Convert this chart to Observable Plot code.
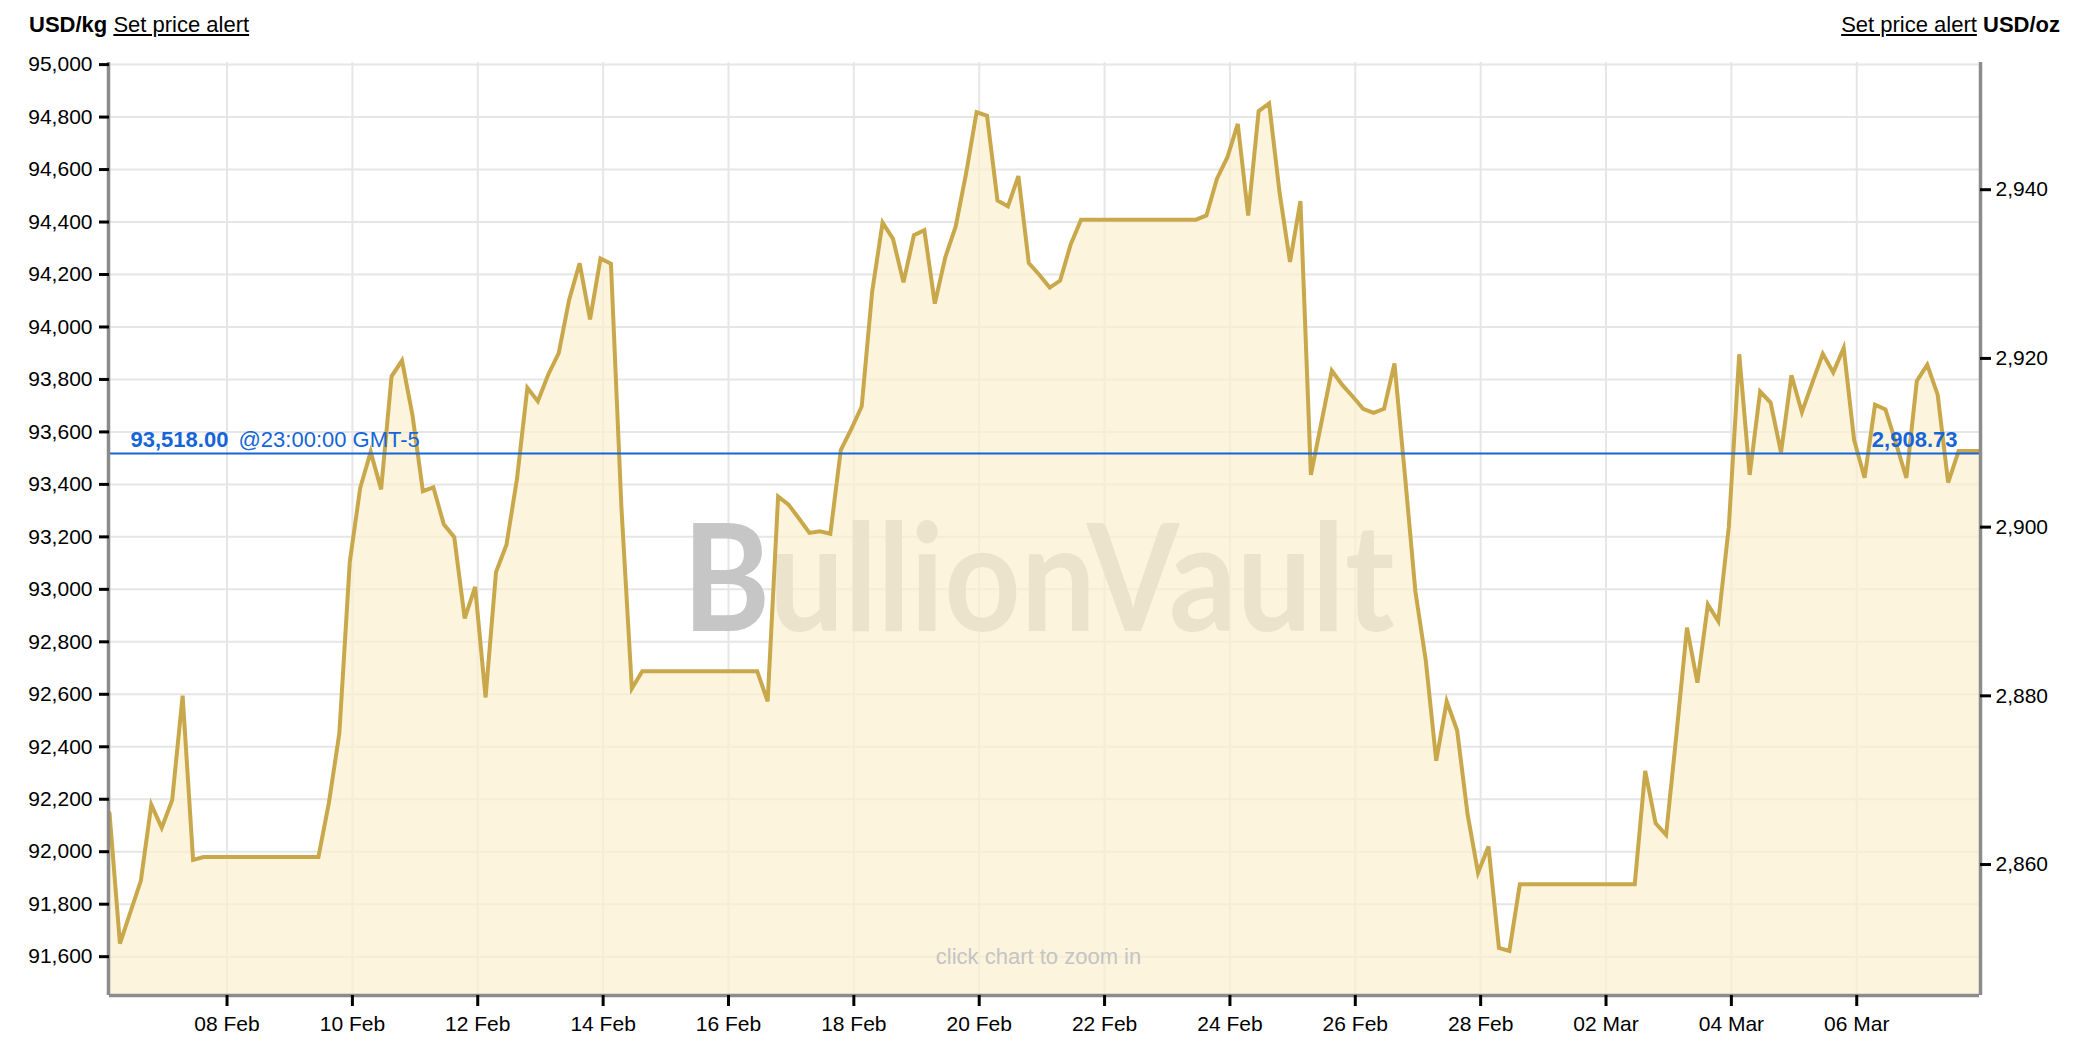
<!DOCTYPE html>
<html>
<head>
<meta charset="utf-8">
<script src="https://cdn.jsdelivr.net/npm/d3@7"></script>
<script src="https://cdn.jsdelivr.net/npm/@observablehq/plot@0.6"></script>
<style>
  html, body { margin: 0; padding: 0; background: #fff; overflow: hidden; }
  body { font-family: "Liberation Sans", Arial, sans-serif; color: #000; }
  #hdr { position: relative; width: 2074px; height: 40px; font-size: 22px; line-height: 22px; }
  #hdr .l { position: absolute; left: 29px; top: 14px; white-space: nowrap; }
  #hdr .r { position: absolute; right: 14px; top: 14px; white-space: nowrap; }
  #hdr u { text-decoration: underline; text-underline-offset: 2px; }
  #chart svg { display: block; }
</style>
</head>
<body>
<div id="hdr">
  <div class="l"><b>USD/kg</b> <u>Set price alert</u></div>
  <div class="r"><u>Set price alert</u> <b>USD/oz</b></div>
</div>
<div id="chart"></div>
<script>
// ---- data (times in GMT-5, hours offset from 08 Feb 2025 00:00) ----
const hourOffset = [
  -45,-41,-37,-33,-29,-25,-21,-17,-13,-9,
  35,39,43,47,51,55,59,63,67,71,
  75,79,83,87,91,95,99,103,107,111,
  115,119,123,127,131,135,139,143,147,151,
  155,159,203,207,211,215,219,223,227,231,
  235,239,243,247,251,255,259,263,267,271,
  275,279,283,287,291,295,299,303,307,311,
  315,319,323,327,371,375,379,383,387,391,
  395,399,403,407,411,415,419,423,427,431,
  435,439,443,447,451,455,459,463,467,471,
  475,479,483,487,491,495,539,543,547,551,
  555,559,563,567,571,575,579,583,587,591,
  595,599,603,607,611,615,619,623,627,631,
  635,639,643,647,651,655,659,663,667,671
];
const usdPerKg = [
  92148,91650,91770,91889,92179,92091,92197,92595,91969,91980,
  91980,92186,92451,93104,93387,93524,93381,93812,93872,93664,
  93374,93389,93248,93199,92889,93009,92588,93066,93170,93420,
  93768,93717,93819,93900,94104,94243,94029,94261,94241,93314,
  92622,92688,92688,92573,93354,93323,93270,93215,93221,93212,
  93531,93611,93697,94133,94398,94336,94170,94350,94369,94089,
  94265,94383,94586,94819,94805,94482,94460,94575,94243,94199,
  94150,94177,94314,94409,94409,94425,94564,94646,94774,94425,
  94823,94852,94513,94248,94480,93436,93635,93834,93779,93735,
  93688,93673,93688,93861,93436,92993,92728,92347,92573,92462,
  92142,91920,92020,91633,91622,91876,91876,92308,92108,92064,
  92451,92854,92644,92942,92878,93237,93896,93436,93754,93712,
  93522,93816,93675,93788,93898,93827,93920,93569,93425,93704,
  93686,93557,93425,93794,93856,93741,93407,93527,93527,93527
];
const leftTicks = [91600,91800,92000,92200,92400,92600,92800,93000,93200,93400,93600,93800,94000,94200,94400,94600,94800,95000];
const rightTicksOz = [2860,2880,2900,2920,2940];
const dateTicks = ["2025-02-08","2025-02-10","2025-02-12","2025-02-14","2025-02-16","2025-02-18","2025-02-20","2025-02-22","2025-02-24","2025-02-26","2025-02-28","2025-03-02","2025-03-04","2025-03-06"];
const lastKg = 93518.00;
const lastOz = 2908.73;
const lastTimeLabel = "@23:00:00 GMT-5";
const watermark = "BullionVault";
const hint = "click chart to zoom in";
const ozPerKg = 32.1507466;

// ---- build ----
const base = Date.UTC(2025, 1, 8);
const toDate = h => new Date(base + h * 3600e3);
const data = hourOffset.map((h, i) => ({t: toDate(h), v: usdPerKg[i]}));
const xDomain = [toDate(hourOffset[0]), toDate(hourOffset[hourOffset.length - 1])];
const yDomain = [91452, 95008];
const ticksX = dateTicks.map(s => new Date(s + "T00:00:00Z"));
const fmt = d3.format(",");
const fmt2 = d3.format(",.2f");

const gold = "#c9a84c";
const blue = "#1565d8";
const axisGray = "#8c8c8c";

const chart = Plot.plot({
  width: 2074,
  height: 1008,
  marginTop: 22,
  marginBottom: 53,
  marginLeft: 109,
  marginRight: 95,
  style: {fontFamily: "'Liberation Sans', Arial, sans-serif", fontSize: "21px", color: "#000", background: "#fff"},
  x: {type: "utc", domain: xDomain},
  y: {domain: yDomain},
  marks: [
    Plot.gridY(leftTicks, {stroke: "#e6e6e6", strokeOpacity: 1, strokeWidth: 2}),
    Plot.gridX(ticksX, {stroke: "#e6e6e6", strokeOpacity: 1, strokeWidth: 2}),
    Plot.text([watermark], {text: d => d, frameAnchor: "middle", textAnchor: "middle", lineAnchor: "bottom", dx: -6, dy: 102, fontSize: 150, fontWeight: "bold", fontFamily: "Lato, Roboto, 'Liberation Sans', sans-serif", fill: "#c6c6c6"}),
    Plot.areaY(data, {x: "t", y1: yDomain[0], y2: "v", fill: "rgb(251,239,206)", fillOpacity: 0.7}),
    Plot.lineY(data, {x: "t", y: "v", stroke: gold, strokeWidth: 4, strokeLinejoin: "miter", strokeMiterlimit: 4}),
    Plot.ruleY([lastKg], {stroke: blue, strokeWidth: 2}),
    Plot.text([lastKg], {x: () => xDomain[0], y: d => d, text: d => fmt2(d), textAnchor: "start", lineAnchor: "bottom", dx: 21, dy: -6, fill: blue, fontWeight: "bold", fontSize: 22}),
    Plot.text([lastKg], {x: () => xDomain[0], y: d => d, text: () => lastTimeLabel, textAnchor: "start", lineAnchor: "bottom", dx: 129, dy: -6, fill: blue, fontSize: 22}),
    Plot.text([lastKg], {x: () => xDomain[1], y: d => d, text: () => fmt2(lastOz), textAnchor: "end", lineAnchor: "bottom", dx: -22, dy: -6, fill: blue, fontWeight: "bold", fontSize: 22}),
    Plot.text([hint], {text: d => d, frameAnchor: "bottom", textAnchor: "middle", lineAnchor: "bottom", dx: -6, dy: -32, fill: "#c4c4c4", fontSize: 22}),
    Plot.ruleX([xDomain[0]], {stroke: axisGray, strokeWidth: 3.5, dx: -1}),
    Plot.ruleX([xDomain[1]], {stroke: axisGray, strokeWidth: 3.5, dx: 1}),
    Plot.ruleY([yDomain[0]], {stroke: axisGray, strokeWidth: 3.5}),
    Plot.axisY(leftTicks, {anchor: "left", tickSize: 10, tickPadding: 7, tickFormat: d => fmt(d), fontSize: 21, strokeWidth: 3, color: "#000", label: null}),
    Plot.axisY(rightTicksOz.map(o => o * ozPerKg), {anchor: "right", tickSize: 11, tickPadding: 5, tickFormat: d => fmt(Math.round(d / ozPerKg)), fontSize: 21, strokeWidth: 3, color: "#000", label: null}),
    Plot.axisX(ticksX, {anchor: "bottom", tickSize: 11, tickPadding: 10, tickFormat: d3.utcFormat("%d %b"), fontSize: 21, strokeWidth: 3, color: "#000", label: null})
  ]
});
document.getElementById("chart").appendChild(chart);
// fit watermark to its width in the reference
for (const t of chart.querySelectorAll("text")) {
  if (t.textContent === watermark) { t.setAttribute("textLength", 712); t.setAttribute("lengthAdjust", "spacingAndGlyphs"); }
}
</script>
</body>
</html>
